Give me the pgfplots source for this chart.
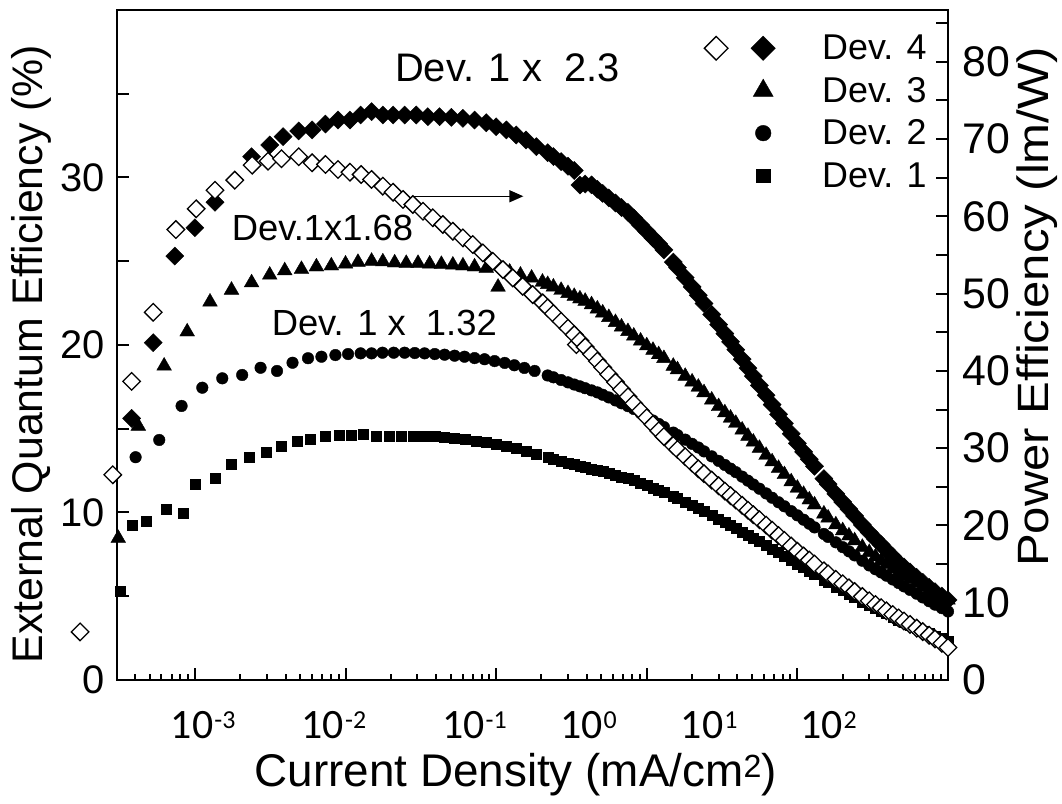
\documentclass[border=0pt]{standalone}
\usepackage{fontspec}
\setmainfont{Liberation Sans}
\newfontfamily\carlito{Carlito}
\usepackage{graphicx}
\usepackage{pgfplots}
\usepackage{pgfplotstable}
\pgfplotsset{compat=1.18}
\usetikzlibrary{arrows.meta}

\newcommand{\dec}[1]{{\fontsize{42}{44}\carlito 10\kern1bp\raisebox{10bp}{\fontsize{26}{26}\selectfont #1}}}

\pgfplotsset{
  sDfour/.style={only marks, mark=square*, mark options={rotate=45}, mark size=6.4bp, black, fill=black, line width=0.4bp},
  sDthree/.style={only marks, mark=triangle*, mark size=8.5bp, black, fill=black, line width=0.4bp},
  sDtwo/.style={only marks, mark=*, mark size=5.8bp, black, fill=black, line width=0.4bp},
  sDone/.style={only marks, mark=square*, mark size=5bp, black, fill=black, line width=0.4bp},
  sPE/.style={only marks, mark=square*, mark options={rotate=45}, mark size=6.2bp, draw=black, fill=white, line width=1.3bp},
  legA/.style={legend image code/.code={%
    \draw[only marks,##1,/tikz/every mark/.append style={scale=1.35}] plot coordinates {(0bp,0bp)};
    \path[draw=none,fill=none] (-60bp,-8bp) rectangle (48bp,8bp);}},
  legB/.style={legend image code/.code={%
    \draw[only marks, mark=square*, mark options={rotate=45,scale=1.35}, mark size=6.2bp, draw=black, fill=white, line width=1.3bp] plot coordinates {(-47bp,0bp)};
    \draw[only marks,##1,/tikz/every mark/.append style={scale=1.35}] plot coordinates {(0bp,0bp)};
    \path[draw=none,fill=none] (-60bp,-8bp) rectangle (48bp,8bp);}},
}

% sparse low-current parts (x in mA/cm^2, EQE in %)
\pgfplotstableread{
x y
3.21e-4 5.33
3.84e-4 9.25
4.73e-4 9.51
6.42e-4 10.21
8.36e-4 9.93
1.00e-3 11.68
1.36e-3 12.04
1.75e-3 12.90
2.28e-3 13.33
2.96e-3 13.59
3.76e-3 13.93
4.77e-3 14.27
5.85e-3 14.39
7.36e-3 14.57
9.02e-3 14.61
1.09e-2 14.61
1.32e-2 14.65
1.60e-2 14.57
1.94e-2 14.55
2.35e-2 14.53
2.80e-2 14.57
3.35e-2 14.57
3.91e-2 14.53
4.55e-2 14.49
5.30e-2 14.43
6.27e-2 14.37
7.38e-2 14.25
8.60e-2 14.17
1.00e-1 14.09
1.17e-1 13.97
1.36e-1 13.83
1.58e-1 13.63
1.85e-1 13.49
}\devonelow

\pgfplotstableread{
x y
4.04e-4 13.30
5.80e-4 14.33
8.16e-4 16.36
1.12e-3 17.45
1.52e-3 18.01
2.06e-3 18.21
2.73e-3 18.64
3.51e-3 18.45
4.45e-3 18.94
5.64e-3 19.21
6.92e-3 19.30
8.57e-3 19.40
1.04e-2 19.46
1.26e-2 19.50
1.49e-2 19.50
1.76e-2 19.54
2.09e-2 19.54
2.47e-2 19.54
2.88e-2 19.52
3.35e-2 19.50
3.91e-2 19.46
4.55e-2 19.42
5.30e-2 19.36
6.17e-2 19.30
7.19e-2 19.22
8.38e-2 19.15
9.76e-2 19.04
1.14e-1 18.93
1.32e-1 18.79
1.54e-1 18.63
1.80e-1 18.45
}\devtwolow

\pgfplotstableread{
x y
3.10e-4 8.46
4.21e-4 15.16
6.25e-4 18.75
8.89e-4 20.79
1.26e-3 22.57
1.75e-3 23.28
2.38e-3 23.72
3.14e-3 24.18
3.95e-3 24.44
5.10e-3 24.52
6.41e-3 24.67
8.05e-3 24.73
1.00e-2 24.84
1.21e-2 24.94
1.49e-2 25.01
1.77e-2 24.97
2.12e-2 24.91
2.53e-2 24.88
3.03e-2 24.88
3.62e-2 24.84
4.33e-2 24.82
5.16e-2 24.78
6.02e-2 24.73
7.19e-2 24.67
8.60e-2 24.58
1.03e-1 23.46
1.23e-1 24.36
1.45e-1 24.18
1.72e-1 24.00
2.03e-1 23.76
}\devthreelow

\pgfplotstableread{
x y
3.80e-4 15.62
5.29e-4 20.14
7.36e-4 25.31
1.00e-3 27.00
1.36e-3 28.52
2.38e-3 31.24
3.14e-3 31.94
3.85e-3 32.44
4.89e-3 32.78
6.00e-3 32.84
7.36e-3 33.19
8.92e-3 33.43
1.07e-2 33.43
1.26e-2 33.73
1.49e-2 33.93
1.77e-2 33.73
2.07e-2 33.73
2.47e-2 33.73
2.95e-2 33.73
3.52e-2 33.63
4.21e-2 33.63
5.04e-2 33.59
6.02e-2 33.53
7.19e-2 33.43
8.60e-2 33.27
1.00e-1 33.03
1.17e-1 32.84
1.36e-1 32.54
1.58e-1 32.24
1.85e-1 31.84
}\devfourlow

% power efficiency of Dev. 4 (lm/W), low-current part
\pgfplotstableread{
x y
1.73e-4 6.22
2.85e-4 26.55
3.80e-4 38.64
5.29e-4 47.58
7.48e-4 58.29
1.02e-3 60.97
1.36e-3 63.38
1.84e-3 64.68
2.40e-3 66.62
3.06e-3 67.14
3.76e-3 67.45
4.89e-3 67.71
6.00e-3 66.93
7.36e-3 66.71
8.92e-3 66.06
1.07e-2 65.71
1.27e-2 65.41
1.49e-2 64.77
1.77e-2 63.90
2.07e-2 63.12
2.41e-2 62.18
2.80e-2 61.53
3.27e-2 60.66
3.80e-2 59.81
4.43e-2 58.94
5.16e-2 58.07
6.02e-2 57.21
7.00e-2 56.35
8.17e-2 55.27
9.51e-2 54.18
1.11e-1 53.11
1.29e-1 52.03
1.50e-1 50.95
1.75e-1 49.87
2.04e-1 48.80
3.41e-1 43.39
}\pelow

% dense high-current part
\pgfplotstableread{
x d4 d3 d2 d1 pe
0.22 31.48 23.62 18.18 13.30 48.16
0.24 31.25 23.47 18.07 13.20 47.41
0.27 30.95 23.27 17.91 13.06 46.41
0.30 30.67 23.08 17.77 12.95 45.51
0.33 30.42 22.91 17.64 12.86 44.69
0.36 29.55 22.76 17.53 12.78 43.89
0.39 29.61 22.62 17.42 12.70 43.09
0.43 29.56 22.41 17.29 12.61 42.14
0.47 29.30 22.16 17.17 12.54 41.26
0.51 29.05 21.92 17.03 12.45 40.44
0.56 28.78 21.65 16.87 12.35 39.53
0.62 28.48 21.35 16.69 12.23 38.54
0.68 28.21 21.08 16.52 12.13 37.60
0.75 27.92 20.81 16.35 12.02 36.65
0.82 27.58 20.54 16.18 11.91 35.78
0.91 27.16 20.24 15.94 11.75 34.82
1.0 26.78 19.96 15.71 11.61 33.94
1.1 26.39 19.69 15.49 11.46 33.07
1.2 26.04 19.43 15.29 11.32 32.25
1.3 25.68 19.20 15.10 11.19 31.50
1.5 24.95 18.74 14.77 10.95 30.34
1.6 24.62 18.53 14.62 10.84 29.83
1.8 24.02 18.14 14.35 10.63 28.90
2.0 23.47 17.80 14.10 10.45 28.07
2.2 22.97 17.49 13.88 10.28 27.33
2.4 22.48 17.16 13.65 10.09 26.70
2.7 21.82 16.72 13.35 9.84 25.87
3.0 21.22 16.33 13.08 9.62 25.13
3.3 20.68 15.96 12.84 9.41 24.44
3.6 20.19 15.64 12.62 9.22 23.85
3.9 19.72 15.33 12.41 9.05 23.29
4.3 19.15 14.93 12.14 8.84 22.60
4.7 18.62 14.56 11.90 8.64 21.97
5.1 18.14 14.21 11.67 8.47 21.39
5.6 17.59 13.84 11.42 8.27 20.74
6.2 17.00 13.42 11.14 8.05 20.04
6.8 16.44 13.03 10.88 7.83 19.38
7.5 15.86 12.64 10.61 7.61 18.69
8.2 15.32 12.27 10.37 7.39 18.07
9.1 14.70 11.84 10.08 7.15 17.33
10 14.13 11.46 9.83 6.93 16.66
11 13.62 11.09 9.57 6.71 16.05
12 13.18 10.76 9.33 6.51 15.52
13 12.76 10.46 9.11 6.32 15.01
15 12.02 9.92 8.72 5.98 14.13
16 11.69 9.68 8.54 5.83 13.73
18 11.11 9.27 8.22 5.56 13.03
20 10.63 8.92 7.93 5.34 12.45
22 10.20 8.61 7.68 5.13 11.93
24 9.80 8.32 7.44 4.94 11.45
27 9.26 7.93 7.12 4.67 10.80
30 8.81 7.62 6.84 4.48 10.25
33 8.42 7.36 6.61 4.29 9.77
36 8.08 7.13 6.42 4.12 9.35
39 7.76 6.91 6.23 3.96 8.95
43 7.37 6.65 6.00 3.77 8.47
47 7.01 6.41 5.79 3.59 8.03
51 6.75 6.22 5.59 3.45 7.63
56 6.45 6.01 5.38 3.28 7.19
62 6.13 5.78 5.15 3.10 6.71
68 5.83 5.58 4.93 2.94 6.26
75 5.53 5.36 4.70 2.77 5.79
82 5.27 5.17 4.50 2.63 5.32
91 5.01 4.96 4.29 2.47 4.74
100 4.78 4.78 4.09 2.33 4.21
}\dense

\begin{document}
\begin{tikzpicture}
\path[use as bounding box] (0,0) rectangle (1062bp,804bp);
\begin{axis}[
  at={(117bp,124bp)}, anchor=south west,
  scale only axis, width=831bp, height=670bp,
  xmode=log, xmin=3.04e-4, xmax=100,
  tick align=inside,
  major tick length=12bp, minor tick length=6bp,
  tick style={line width=2bp, black},
  axis line style={line width=2.5bp},
  ymin=0, ymax=40,
  ytick={0,5,...,35}, yticklabels={0,,10,,20,,30,},
  ytick pos=left, xtick pos=left,
  xtick={1e-3,1e-2,0.1,1,10,100}, xticklabels={},
  minor xtick={4e-4,5e-4,6e-4,7e-4,8e-4,9e-4,
    2e-3,3e-3,4e-3,5e-3,6e-3,7e-3,8e-3,9e-3,
    2e-2,3e-2,4e-2,5e-2,6e-2,7e-2,8e-2,9e-2,
    0.2,0.3,0.4,0.5,0.6,0.7,0.8,0.9,
    2,3,4,5,6,7,8,9,
    20,30,40,50,60,70,80,90},
  extra x ticks={1.135e-3,8.38e-3,7.19e-2,0.411,2.60,16.07},
  extra x tick labels={\dec{-3},\dec{-2},\dec{-1},\dec{0},\dec{1},\dec{2}},
  extra x tick style={major tick length=0pt},
  xticklabel style={inner sep=0pt, anchor=north, yshift=-31bp, font=\fontsize{42}{44}\selectfont},
  yticklabel style={inner sep=0pt, anchor=east, xshift=-12bp, font=\fontsize{40}{44}\selectfont},
  xlabel={Current Density (mA/cm\textsuperscript{2})},
  xlabel style={at={(axis description cs:0.480,-0.142)}, anchor=center, font=\fontsize{46}{50}\selectfont},
  ylabel={External Quantum Efficiency (\%)},
  ylabel style={at={(axis description cs:-0.1035,0.4866)}, anchor=center, font=\fontsize{43}{48}\selectfont},
  legA,
  legend style={draw=none, fill=none, at={(axis description cs:0.7052,0.9627)}, anchor=north west,
    font=\fontsize{36}{40}\selectfont, row sep=16bp, column sep=11bp, inner sep=0pt,
    nodes={inner sep=0pt}, cells={anchor=west}},
]
\addplot[sDfour, legB] table {\devfourlow};
\addlegendentry{Dev. 4}
\addplot[sDfour, forget plot] table[x=x, y=d4] {\dense};
\addplot[sDthree] table {\devthreelow};
\addlegendentry{Dev. 3}
\addplot[sDthree, forget plot] table[x=x, y=d3] {\dense};
\addplot[sDtwo] table {\devtwolow};
\addlegendentry{Dev. 2}
\addplot[sDtwo, forget plot] table[x=x, y=d2] {\dense};
\addplot[sDone] table {\devonelow};
\addlegendentry{Dev. 1}
\addplot[sDone, forget plot] table[x=x, y=d1] {\dense};

\node[anchor=west, inner sep=0pt, font=\fontsize{40}{44}\selectfont] at (axis description cs:0.3345,0.914) {Dev. 1 x\ \ 2.3};
\node[anchor=west, inner sep=0pt, font=\fontsize{36.5}{40}\selectfont] at (axis description cs:0.138,0.674) {Dev.1x1.68};
\node[anchor=west, inner sep=0pt, font=\fontsize{36.5}{40}\selectfont] at (axis description cs:0.186,0.5336) {Dev. 1 x\ \ 1.32};
\draw[-{Triangle[length=14bp,width=12bp]}, line width=1.5bp] (axis description cs:0.357,0.722) -- (axis description cs:0.489,0.722);
\end{axis}

\begin{axis}[
  at={(117bp,124bp)}, anchor=south west,
  scale only axis, width=831bp, height=670bp,
  xmode=log, xmin=3.04e-4, xmax=100,
  tick align=inside,
  major tick length=12bp,
  tick style={line width=2bp, black},
  axis line style={line width=2.5bp},
  axis x line=none, axis y line*=right,
  ymin=0, ymax=86.7,
  ytick={0,5,...,85}, yticklabels={0,,10,,20,,30,,40,,50,,60,,70,,80,},
  clip=false,
  yticklabel style={inner sep=0pt, anchor=west, xshift=14bp, font=\fontsize{43}{46}\selectfont},
  ylabel={\scalebox{1.12}[1]{Power Efficiency (lm/W)}},
  ylabel style={at={(axis description cs:1.1071,0.557)}, anchor=center, font=\fontsize{44}{48}\selectfont},
]
\addplot[sPE] table {\pelow};
\addplot[sPE] table[x=x, y=pe] {\dense};
\end{axis}
\end{tikzpicture}
\end{document}
